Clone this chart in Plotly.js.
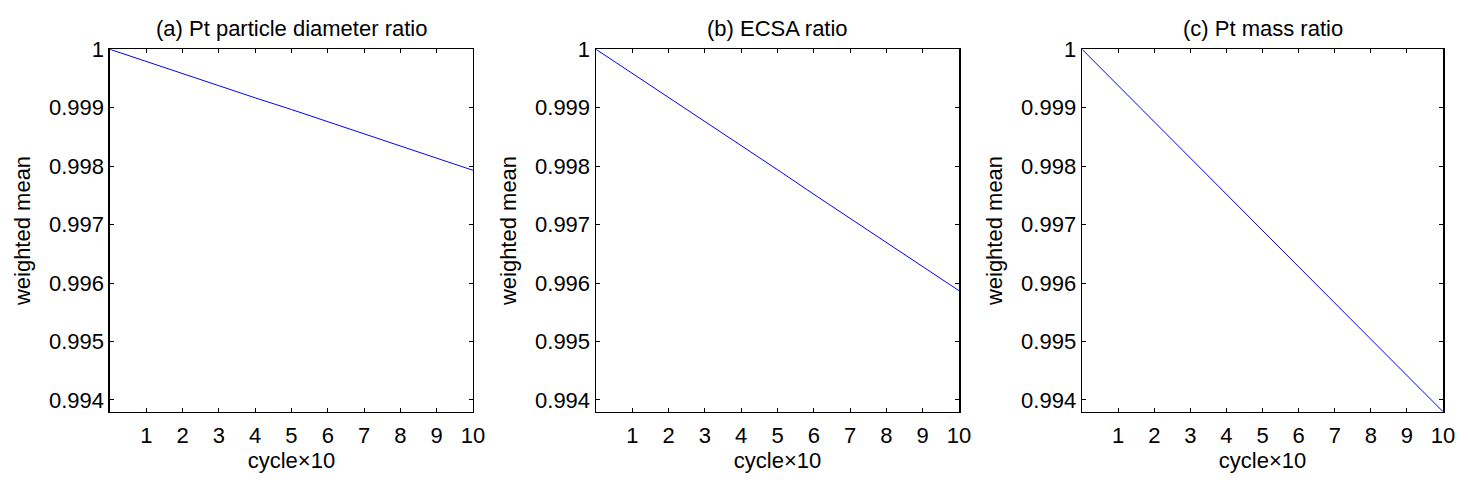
<!DOCTYPE html>
<html>
<head>
<meta charset="utf-8">
<script src="https://cdn.plot.ly/plotly-3.0.1.min.js"></script>
<style>
  html, body { margin: 0; padding: 0; background: #fff; }
  #chart { width: 1468px; height: 484px; }
</style>
</head>
<body>
<div id="chart"></div>
<script>
// cycle x10
var cycles = [0, 1, 2, 3, 4, 5, 6, 7, 8, 9, 10];

// weighted mean ratios
var diameterRatio = [1, 0.99979, 0.99959, 0.99938, 0.99917, 0.99897, 0.99876, 0.99855, 0.99834, 0.99814, 0.99793];
var ecsaRatio     = [1, 0.99959, 0.99917, 0.99876, 0.99835, 0.99794, 0.99752, 0.99711, 0.99670, 0.99628, 0.99587];
var massRatio     = [1, 0.99938, 0.99876, 0.99814, 0.99752, 0.99690, 0.99628, 0.99566, 0.99504, 0.99442, 0.99380];

var panelTitles = ['(a) Pt particle diameter ratio', '(b) ECSA ratio', '(c) Pt mass ratio'];

var xTickVals = [1, 2, 3, 4, 5, 6, 7, 8, 9, 10];
var yTickVals = [0.994, 0.995, 0.996, 0.997, 0.998, 0.999, 1];
var yTickText = ['0.994', '0.995', '0.996', '0.997', '0.998', '0.999', '1'];

var font = {family: 'Liberation Sans, Arial, sans-serif', size: 22, color: '#000'};

var series = [diameterRatio, ecsaRatio, massRatio];
var xDomains = [[0.0749, 0.3222], [0.4060, 0.6533], [0.7371, 0.9830]];
var yDomain = [0.1494, 0.8981];

var data = [];
var layout = {
  width: 1468,
  height: 484,
  margin: {l: 0, r: 0, t: 0, b: 0},
  paper_bgcolor: '#fff',
  plot_bgcolor: '#fff',
  showlegend: false,
  font: font,
  annotations: []
};

for (var i = 0; i < 3; i++) {
  var sfx = i === 0 ? '' : String(i + 1);
  data.push({
    x: cycles,
    y: series[i],
    type: 'scatter',
    mode: 'lines',
    line: {color: 'rgb(0,0,255)', width: 1},
    xaxis: 'x' + sfx,
    yaxis: 'y' + sfx,
    hoverinfo: 'skip'
  });

  layout['xaxis' + sfx] = {
    domain: xDomains[i],
    anchor: 'y' + sfx,
    range: [0, 10],
    tickvals: xTickVals,
    ticks: 'inside',
    ticklen: 4,
    tickcolor: '#000',
    showline: true,
    linecolor: '#000',
    linewidth: 1.5,
    mirror: 'ticks',
    showgrid: false,
    zeroline: false,
    tickfont: font,
    ticklabelstandoff: 3,
    title: {text: 'cycle×10', font: font, standoff: 4}
  };
  layout['yaxis' + sfx] = {
    domain: yDomain,
    anchor: 'x' + sfx,
    range: [0.9938, 1],
    tickvals: yTickVals,
    ticktext: yTickText,
    ticks: 'inside',
    ticklen: 4,
    tickcolor: '#000',
    showline: true,
    linecolor: '#000',
    linewidth: 1.5,
    mirror: 'ticks',
    showgrid: false,
    zeroline: false,
    tickfont: font,
    title: {text: 'weighted mean', font: font, standoff: 12}
  };

  layout.annotations.push({
    text: panelTitles[i],
    xref: 'paper',
    yref: 'paper',
    x: (xDomains[i][0] + xDomains[i][1]) / 2,
    y: yDomain[1],
    xanchor: 'center',
    yanchor: 'bottom',
    yshift: 6,
    showarrow: false,
    font: font
  });
}

Plotly.newPlot('chart', data, layout, {staticPlot: true});
</script>
</body>
</html>
